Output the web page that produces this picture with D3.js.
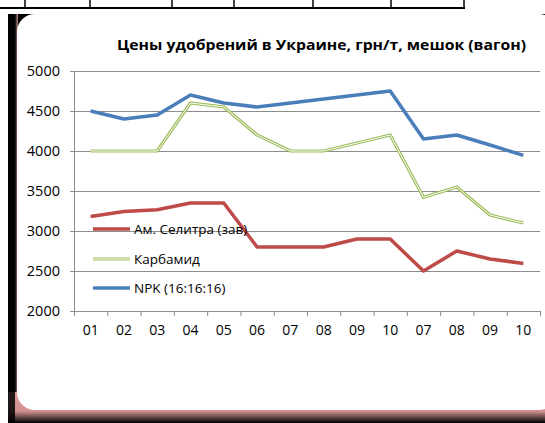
<!DOCTYPE html>
<html><head><meta charset="utf-8">
<script src="https://cdn.jsdelivr.net/npm/d3@7"></script>
<style>
html,body{margin:0;padding:0;background:#fff;}
svg{display:block;font-family:"Open Sans",sans-serif;}
</style></head>
<body>
<svg id="c" width="545" height="423"></svg>
<script>
const categories = ["01","02","03","04","05","06","07","08","09","10","07","08","09","10"];
const seriesNames = ["Ам. Селитра (зав)","Карбамид","NPK (16:16:16)"];
const selitra = [3180,3245,3265,3350,3350,2800,2800,2800,2900,2900,2500,2750,2650,2595];
const karbamid = [4000,4000,4000,4600,4550,4200,4000,4000,4100,4200,3420,3550,3200,3100];
const npk = [4500,4400,4450,4700,4600,4550,4600,4650,4700,4750,4150,4200,4075,3945];
const yTicks = [2000,2500,3000,3500,4000,4500,5000];
const title = "Цены удобрений в Украине, грн/т, мешок (вагон)";

const svg = d3.select("#c");
const defs = svg.append("defs");
const gb = defs.append("linearGradient").attr("id","gb").attr("x1",0).attr("y1",0).attr("x2",0).attr("y2",1);
gb.append("stop").attr("offset","0%").attr("stop-color","#dc9c9c");
gb.append("stop").attr("offset","62%").attr("stop-color","#d09090");
gb.append("stop").attr("offset","100%").attr("stop-color","#000");
const gl = defs.append("linearGradient").attr("id","gl").attr("x1",0).attr("y1",0).attr("x2",1).attr("y2",0);
gl.append("stop").attr("offset","0%").attr("stop-color","#000");
gl.append("stop").attr("offset","70%").attr("stop-color","#000");
gl.append("stop").attr("offset","100%").attr("stop-color","#c89090");

// top table remnant
svg.append("line").attr("x1",0).attr("x2",465).attr("y1",8).attr("y2",8).attr("stroke","#000").attr("stroke-width",2);
[25,90,172,234,313,391,464].forEach(x=>{
  svg.append("line").attr("x1",x).attr("x2",x).attr("y1",0).attr("y2",8).attr("stroke","#000").attr("stroke-width",1.5);
});

// frame
svg.append("rect").attr("x",8).attr("y",14).attr("width",537).attr("height",409).attr("fill","#000");
svg.append("rect").attr("x",8).attr("y",14).attr("width",10).attr("height",390).attr("fill","url(#gl)");
svg.append("rect").attr("x",8).attr("y",392).attr("width",537).attr("height",31).attr("fill","url(#gb)");
svg.append("rect").attr("x",8).attr("y",392).attr("width",7).attr("height",31).attr("fill","#000").attr("opacity",0.85);
svg.append("rect").attr("x",17).attr("y",14).attr("width",540).attr("height",396).attr("rx",18).attr("fill","#fff");

// title
svg.append("text").attr("x",117).attr("y",50).attr("font-size",14.5).attr("font-weight","bold")
  .attr("textLength",409).attr("lengthAdjust","spacingAndGlyphs").attr("fill","#000").text(title);

const L=74, R=540, T=71, B=311;
const x = d3.scaleBand().domain(d3.range(categories.length)).range([L,R]);
const xe = d3.scaleLinear().domain([0,categories.length]).range([L,R]);
const y = d3.scaleLinear().domain([2000,5000]).range([B,T]);

// gridlines
svg.append("g").attr("transform",`translate(${L},0)`)
  .call(d3.axisLeft(y).tickValues(yTicks.slice(1)).tickSize(-(R-L)).tickFormat(""))
  .call(g=>g.select(".domain").remove())
  .call(g=>g.selectAll("line").attr("stroke","#8c8c8c").attr("stroke-width",1));

// y axis
const ya = svg.append("g").attr("transform",`translate(${L},0)`)
  .call(d3.axisLeft(y).tickValues(yTicks).tickSize(4).tickPadding(10).tickFormat(d3.format("d")));
ya.select(".domain").attr("stroke","#8c8c8c");
ya.selectAll("line").attr("stroke","#8c8c8c");
ya.selectAll("text").attr("font-size",14.5).attr("fill","#000").attr("font-family","Open Sans");

// x axis ticks
const xa = svg.append("g").attr("transform",`translate(0,${B})`)
  .call(d3.axisBottom(xe).tickValues(d3.range(categories.length+1)).tickSize(5).tickFormat(""));
xa.select(".domain").attr("stroke","#8c8c8c");
xa.selectAll("line").attr("stroke","#8c8c8c");
const xl = svg.append("g").attr("transform",`translate(0,${B})`)
  .call(d3.axisBottom(x).tickSize(0).tickPadding(14).tickFormat(i=>categories[i]));
xl.select(".domain").remove();
xl.selectAll("text").attr("font-size",14).attr("fill","#000").attr("font-family","Open Sans");

const line = d3.line().x((d,i)=>x(i)+x.bandwidth()/2).y(d=>y(d));

// series
svg.append("path").datum(karbamid).attr("d",line).attr("fill","none").attr("stroke","#9BBB59").attr("stroke-width",3.2).attr("stroke-linejoin","miter");
svg.append("path").datum(karbamid).attr("d",line).attr("fill","none").attr("stroke","#fff").attr("stroke-width",1).attr("stroke-linejoin","miter");
svg.append("path").datum(npk).attr("d",line).attr("fill","none").attr("stroke","#4A7EBB").attr("stroke-width",3.5).attr("stroke-linejoin","round");
svg.append("path").datum(selitra).attr("d",line).attr("fill","none").attr("stroke","#BE4B48").attr("stroke-width",3.5).attr("stroke-linejoin","round");

// legend
const lg = svg.append("g");
const ly = [229,259,288];
const lc = ["#BE4B48","#9BBB59","#4A7EBB"];
seriesNames.forEach((n,i)=>{
  lg.append("line").attr("x1",93).attr("x2",130).attr("y1",ly[i]).attr("y2",ly[i]).attr("stroke",lc[i]).attr("stroke-width",i==1?3.2:3.5);
  if(i==1) lg.append("line").attr("x1",93).attr("x2",130).attr("y1",ly[i]).attr("y2",ly[i]).attr("stroke","#fff").attr("stroke-width",1);
  lg.append("text").attr("x",134).attr("y",ly[i]+4.5).attr("font-size",13.5).attr("fill","#000").text(n);
});
</script>
</body></html>
